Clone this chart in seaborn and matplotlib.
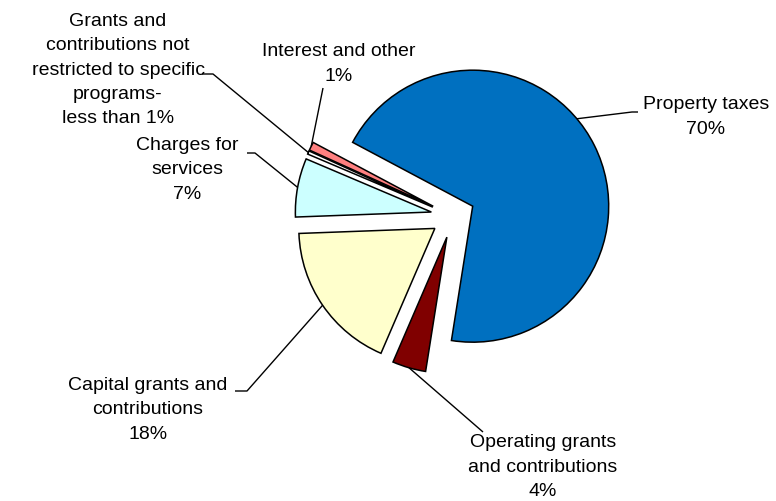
import matplotlib
matplotlib.use("Agg")
import matplotlib.pyplot as plt
import seaborn as sns
import numpy as np

# Revenue sources, listed clockwise starting with property taxes
sources = [
    "Property taxes",
    "Operating grants\nand contributions",
    "Capital grants and\ncontributions",
    "Charges for\nservices",
    "Grants and\ncontributions not\nrestricted to specific\nprograms-",
    "Interest and other",
]
shares = [70, 4, 18, 7, 0.4, 1]
share_text = ["70%", "4%", "18%", "7%", "less than 1%", "1%"]
colors = ["#0070C0", "#800000", "#FFFFCC", "#CCFFFF", "#FFFFFF", "#FF8080"]

sns.set_theme(style="white")
plt.rcParams["font.family"] = ["Liberation Sans", "DejaVu Sans"]

W, H = 776, 501
fig = plt.figure(figsize=(W / 100, H / 100), dpi=100, facecolor="white")
ax = fig.add_axes([0, 0, 1, 1])

# pixel-like coordinate system (y measured downward as negative values)
cx, cy, R = 453, -216, 136
wedges, _ = ax.pie(
    shares,
    colors=colors,
    startangle=152,
    counterclock=False,
    explode=[22] * len(shares),
    radius=R,
    center=(cx, cy),
    frame=True,
    wedgeprops=dict(edgecolor="black", linewidth=1.1),
)
ax.set_xlim(0, W)
ax.set_ylim(-H, 0)
ax.set_aspect("equal")
ax.axis("off")


def arc_point(w, angle=None):
    if angle is None:
        angle = 0.5 * (w.theta1 + w.theta2)
    ang = np.deg2rad(angle)
    x0, y0 = w.center
    return x0 + w.r * np.cos(ang), y0 + w.r * np.sin(ang)


# label text centre (x, y) in pixels, connector path points, arc angle
label_specs = [
    dict(pos=(706, 117), path=[(638, 112), (632, 112)], angle=40),
    dict(pos=(543, 467), path=[(483, 432)], angle=None),
    dict(pos=(148, 410), path=[(235, 391), (247, 391)], angle=None),
    dict(pos=(187, 170), path=[(247, 153), (255, 153)], angle=None),
    dict(pos=(118, 70), path=[(202, 74), (213, 74)], angle=None),
    dict(pos=(339, 64), path=[(323, 88)], angle=None),
]

for w, name, pct, spec in zip(wedges, sources, share_text, label_specs):
    text = name + "\n" + pct
    x, y = spec["pos"]
    ax.text(x, -y, text, ha="center", va="center", fontsize=14,
            color="black", linespacing=1.55)
    px, py = arc_point(w, spec["angle"])
    xs = [p[0] for p in spec["path"]] + [px]
    ys = [-p[1] for p in spec["path"]] + [py]
    ax.plot(xs, ys, color="black", linewidth=1.0, solid_capstyle="butt")

fig.savefig("out.png", dpi=100, facecolor="white")
